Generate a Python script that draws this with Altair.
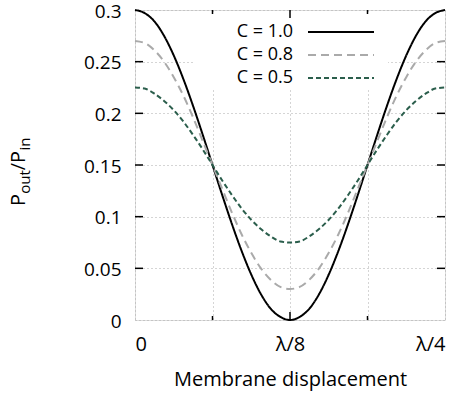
import altair as alt
import pandas as pd

# ---------------- data ----------------
# displacement in units of lambda/128, from 0 to lambda/4
disp = list(range(33))

p_c10 = [0.300, 0.297, 0.289, 0.275, 0.256, 0.233, 0.207, 0.179, 0.150, 0.121, 0.093,
         0.067, 0.044, 0.025, 0.011, 0.003, 0.000, 0.003, 0.011, 0.025, 0.044, 0.067,
         0.093, 0.121, 0.150, 0.179, 0.207, 0.233, 0.256, 0.275, 0.289, 0.297, 0.300]
p_c08 = [0.270, 0.268, 0.261, 0.250, 0.235, 0.217, 0.196, 0.173, 0.150, 0.127, 0.104,
         0.083, 0.065, 0.050, 0.039, 0.032, 0.030, 0.032, 0.039, 0.050, 0.065, 0.083,
         0.104, 0.127, 0.150, 0.173, 0.196, 0.217, 0.235, 0.250, 0.261, 0.268, 0.270]
p_c05 = [0.225, 0.224, 0.219, 0.212, 0.203, 0.192, 0.179, 0.165, 0.150, 0.135, 0.121,
         0.108, 0.097, 0.088, 0.081, 0.076, 0.075, 0.076, 0.081, 0.088, 0.097, 0.108,
         0.121, 0.135, 0.150, 0.165, 0.179, 0.192, 0.203, 0.212, 0.219, 0.224, 0.225]

series = ["C = 1.0", "C = 0.8", "C = 0.5"]
x_tick_values = [0, 8, 16, 24, 32]
x_major_ticks = [16]
x_minor_ticks = [8, 24]
y_tick_values = [0, 0.05, 0.1, 0.15, 0.2, 0.25, 0.3]
y_inner_ticks = [0.05, 0.1, 0.15, 0.2, 0.25]

# ---------------- styles ----------------
colors = ["#000000", "#aaaaaa", "#2b5e4c"]
dashes = [[1, 0], [8, 5], [5, 3]]
W, H = 310, 310
FONT = "Open Sans"

df = pd.DataFrame({
    "d": disp * 3,
    "p": p_c10 + p_c08 + p_c05,
    "series": [series[0]] * len(disp) + [series[1]] * len(disp) + [series[2]] * len(disp),
})

x_enc = alt.X(
    "d:Q",
    scale=alt.Scale(domain=[0, 32], nice=False, zero=False),
    axis=alt.Axis(
        values=x_tick_values,
        labelExpr="datum.value == 0 ? '0' : datum.value == 16 ? '\u03bb/8' : datum.value == 32 ? '\u03bb/4' : ''",
        ticks=False, domain=False, grid=True,
        gridDash=[1, 3], gridColor="#aaaaaa", gridWidth=1,
        labelPadding=14, labelFontSize=20, labelFont=FONT, labelColor="black",
        title="Membrane displacement", titleFont=FONT, titleFontSize=20,
        titleFontWeight="normal", titleColor="black", titlePadding=15,
    ),
)
y_enc = alt.Y(
    "p:Q",
    scale=alt.Scale(domain=[0, 0.3], nice=False, zero=False),
    axis=alt.Axis(
        values=y_tick_values, format="~g",
        ticks=False, domain=False, grid=True,
        gridDash=[1, 3], gridColor="#aaaaaa", gridWidth=1,
        labelPadding=14, labelFontSize=19, labelOffset=1, labelFont=FONT, labelColor="black",
        title=None,
    ),
)

lines = alt.Chart(df).mark_line(strokeWidth=2, interpolate="monotone", clip=False).encode(
    x=x_enc,
    y=y_enc,
    color=alt.Color("series:N", scale=alt.Scale(domain=series, range=colors), legend=None),
    strokeDash=alt.StrokeDash("series:N", scale=alt.Scale(domain=series, range=dashes), legend=None),
    order=alt.Order("d:Q"),
)

# legend box (white, hides the grid) and entries
legend_df = pd.DataFrame({"k": [0]})
legend_layers = [
    alt.Chart(legend_df).mark_rect(color="white").encode(
        x=alt.value(58), x2=alt.value(253), y=alt.value(4), y2=alt.value(79)
    )
]
row_y = [22, 45, 68]
for i, name in enumerate(series):
    legend_layers.append(
        alt.Chart(legend_df).mark_text(
            align="right", baseline="middle", font=FONT, fontSize=18, color="black"
        ).encode(x=alt.value(158), y=alt.value(row_y[i]), text=alt.value(name))
    )
    legend_layers.append(
        alt.Chart(legend_df).mark_rule(
            color=colors[i], strokeWidth=2, strokeDash=dashes[i]
        ).encode(x=alt.value(173), x2=alt.value(239), y=alt.value(row_y[i]))
    )

# inward tick marks, mirrored on all four sides
xmaj = pd.DataFrame({"d": x_major_ticks})
xmin = pd.DataFrame({"d": x_minor_ticks})
yt = pd.DataFrame({"p": y_inner_ticks})
tick_layers = []
for data, ln in [(xmaj, 8), (xmin, 4)]:
    tick_layers.append(alt.Chart(data).mark_rule(color="black", strokeWidth=1.5).encode(
        x=alt.X("d:Q"), y=alt.value(H), y2=alt.value(H - ln)))
    tick_layers.append(alt.Chart(data).mark_rule(color="black", strokeWidth=1.5).encode(
        x=alt.X("d:Q"), y=alt.value(0), y2=alt.value(ln)))
tick_layers.append(alt.Chart(yt).mark_rule(color="black", strokeWidth=1.5).encode(
    y=alt.Y("p:Q"), x=alt.value(0), x2=alt.value(8)))
tick_layers.append(alt.Chart(yt).mark_rule(color="black", strokeWidth=1.5).encode(
    y=alt.Y("p:Q"), x=alt.value(W), x2=alt.value(W - 8)))

# y-axis title P_out/P_in built from pieces (subscripts), rotated
pieces = [("P", 20, 0, 12.3), ("out", 15, 5, 23.5), ("/", 20, 0, 7.3), ("P", 20, 0, 12.3), ("in", 15, 5, 13.1)]
title_layers = []
pos = 196
for txt, fs, shift, w in pieces:
    title_layers.append(
        alt.Chart(legend_df).mark_text(
            align="left", baseline="alphabetic", angle=270, font=FONT, fontSize=fs, color="black"
        ).encode(x=alt.value(-110 + shift), y=alt.value(pos), text=alt.value(txt))
    )
    pos -= w

chart = alt.layer(
    *legend_layers, lines, *tick_layers, *title_layers
).resolve_scale(x="shared", y="shared").properties(
    width=W, height=H,
    autosize=alt.AutoSizeParams(type="none"),
    padding={"left": 135, "top": 10, "right": 20, "bottom": 76},
).configure_view(stroke="black", strokeWidth=2).configure(background="white")

chart.save("out.html", embed_options={"renderer": "svg", "actions": False})
